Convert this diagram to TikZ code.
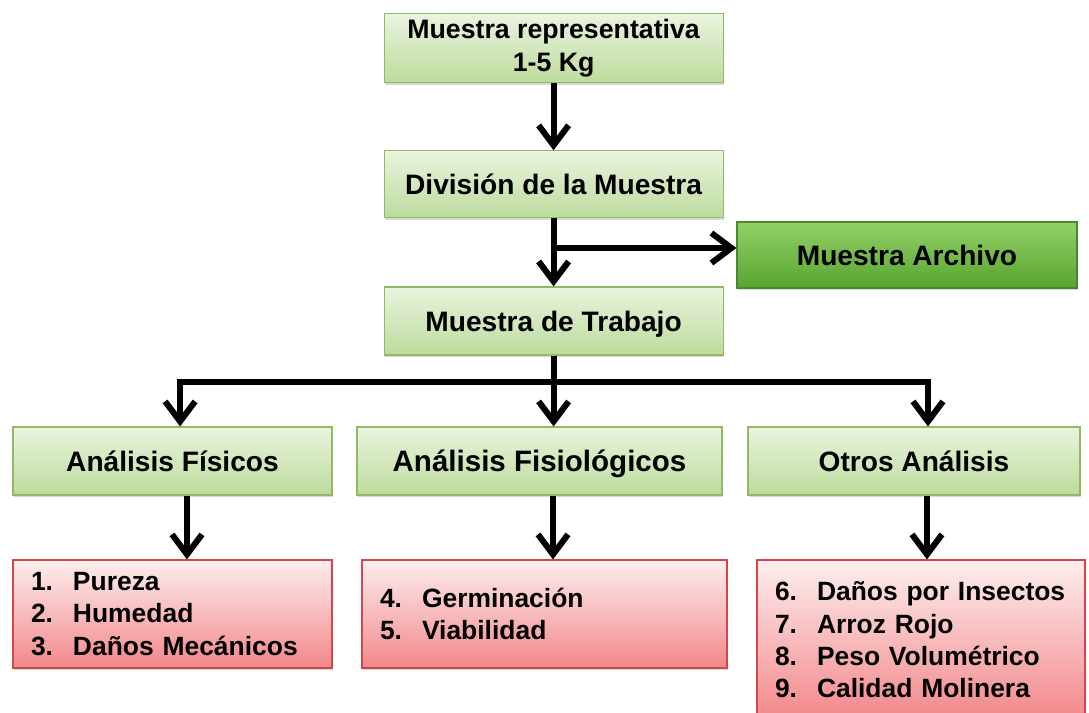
\documentclass[tikz,border=0pt]{standalone}
\usepackage{fontspec}
\setmainfont{Liberation Sans}
\usetikzlibrary{positioning,arrows.meta,shadows}
\definecolor{greentop}{HTML}{EAF4DF}
\definecolor{greenbot}{HTML}{BCDB9C}
\definecolor{greenline}{HTML}{93B866}
\definecolor{archtop}{HTML}{93D067}
\definecolor{archbot}{HTML}{57A531}
\definecolor{archline}{HTML}{4C862C}
\definecolor{listtop}{HTML}{FDEEEE}
\definecolor{listbot}{HTML}{F2878A}
\definecolor{listline}{HTML}{D2474C}

\newcommand{\li}[2]{\makebox[1.05cm][l]{#1}#2}

\begin{document}
\begin{tikzpicture}[
    greenbox/.style={draw=greenline, line width=0.8pt, top color=greentop, bottom color=greenbot,
        drop shadow={opacity=0.3, shadow xshift=0.8pt, shadow yshift=-1.6pt},
        inner sep=0pt, font=\fontsize{20}{24}\selectfont\bfseries},
    onebox/.style={greenbox, text height=18pt, text depth=3.6pt},
    archbox/.style={onebox, draw=archline, top color=archtop, bottom color=archbot},
    listbox/.style={draw=listline, line width=0.8pt, top color=listtop, bottom color=listbot,
        drop shadow={opacity=0.3, shadow xshift=0.8pt, shadow yshift=-1.6pt},
        align=left, inner xsep=0.45cm, inner ysep=0pt, font=\fontsize{18.8}{23}\selectfont\bfseries},
    arr/.style={-{Straight Barb[length=0.5cm,width=0.75cm]}, line width=4.3pt},
    bar/.style={line width=4.3pt}
]
    \useasboundingbox[fill=white] (0,0) rectangle (27.225,-17.8);

    % Main column
    \node[greenbox, align=center, minimum width=8.475cm, minimum height=1.725cm,
          font=\fontsize{19}{23.5}\selectfont\bfseries] (rep) at (13.84,-1.21) {Muestra representativa\\1-5 Kg};
    \node[onebox, minimum width=8.475cm, minimum height=1.675cm] (div) at (13.84,-4.61) {División de la Muestra};
    \node[onebox, minimum width=8.475cm, minimum height=1.7cm] (trab) at (13.84,-8.025) {Muestra de Trabajo};
    \node[archbox, minimum width=8.5cm, minimum height=1.65cm] (arch) at (22.675,-6.375) {Muestra Archivo};

    % Analysis row
    \node[onebox, minimum width=7.975cm, minimum height=1.7cm] (fis) at (4.3125,-11.525) {Análisis Físicos};
    \node[onebox, minimum width=9.125cm, minimum height=1.7cm,
          font=\fontsize{21}{25}\selectfont\bfseries] (fisio) at (13.4875,-11.525) {Análisis Fisiológicos};
    \node[onebox, minimum width=8.3cm, minimum height=1.7cm] (otros) at (22.85,-11.525) {Otros Análisis};

    % Lists
    \node[listbox, text width=7.075cm, minimum height=2.7cm] (lfis) at (4.3125,-15.35)
        {\li{1.}{Pureza}\\\li{2.}{Humedad}\\\li{3.}{Daños Mecánicos}};
    \node[listbox, text width=8.225cm, minimum height=2.7cm] (lfisio) at (13.6125,-15.35)
        {\li{4.}{Germinación}\\\li{5.}{Viabilidad}};
    \node[listbox, text width=7.3cm, minimum height=4cm] (lotros) at (23.025,-16.0)
        {\li{6.}{Daños por Insectos}\\\li{7.}{Arroz Rojo}\\\li{8.}{Peso Volumétrico}\\\li{9.}{Calidad Molinera}};

    % Connectors
    \coordinate (split) at (13.84,-6.2);
    \coordinate (bus) at (13.84,-9.55);
    \draw[arr] (rep) -- (div);
    \draw[arr] (div) -- (trab);
    \draw[arr] (split) -- (arch.west |- split);
    \draw[bar] (trab) -- (bus);
    \foreach \n/\s in {fis/0.19, fisio/0.3525, otros/0.35} {
        \draw[arr] (bus) -| ([xshift=\s cm]\n.north);
    }
    \foreach \n/\s in {fis/0.3625, fisio/0.3375, otros/0.325} {
        \draw[arr] ([xshift=\s cm]\n.south) -- ([xshift=\s cm]\n.south |- l\n.north);
    }
\end{tikzpicture}
\end{document}
